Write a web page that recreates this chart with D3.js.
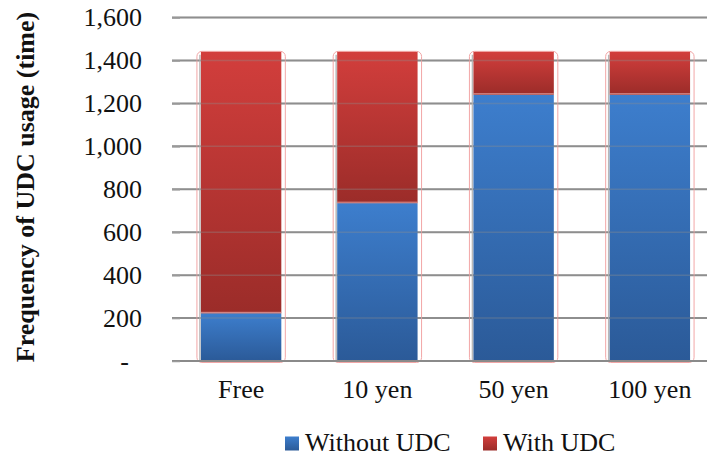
<!DOCTYPE html>
<html>
<head>
<meta charset="utf-8">
<script src="https://cdn.jsdelivr.net/npm/d3@7"></script>
<style>
  html, body { margin: 0; padding: 0; background: #fff; }
  svg { display: block; }
</style>
</head>
<body>
<svg id="chart" width="707" height="460"></svg>
<script>
// Usage frequency of UDC by price setting
const categories = ["Free", "10 yen", "50 yen", "100 yen"];
const withoutUDC = [222, 735, 1240, 1240];
const withUDC = [1218, 705, 200, 200];
const yTicks = [0, 200, 400, 600, 800, 1000, 1200, 1400, 1600];
const yTickLabels = ["-", "200", "400", "600", "800", "1,000", "1,200", "1,400", "1,600"];
const seriesNames = ["Without UDC", "With UDC"];

const FONT = "'Liberation Serif', 'DejaVu Serif', serif";

const svg = d3.select("#chart");
const plotLeft = 180, plotRight = 707;

const x = d3.scaleBand().domain(categories).range([173, 718])
  .paddingInner(0.41).paddingOuter(0.205);
const y = d3.scaleLinear().domain([0, 1600]).range([361, 17.5]);

// gradients for each series
const defs = svg.append("defs");
function grad(id, top, bottom) {
  const g = defs.append("linearGradient").attr("id", id)
    .attr("x1", 0).attr("y1", 0).attr("x2", 0).attr("y2", 1);
  g.append("stop").attr("offset", "0%").attr("stop-color", top);
  g.append("stop").attr("offset", "100%").attr("stop-color", bottom);
}
grad("gBlue", "#3d7ecd", "#2b5a98");
grad("gRed", "#d23e3c", "#9b2c29");

// gridlines
svg.append("g").selectAll("line").data(yTicks.slice(1)).join("line")
  .attr("x1", 172).attr("x2", plotRight)
  .attr("y1", d => y(d)).attr("y2", d => y(d))
  .attr("stroke", "#8e8e8e").attr("stroke-width", 2);

// stacked data
const rows = categories.map((c, i) => ({ cat: c, a: withoutUDC[i], b: withUDC[i] }));
const stack = d3.stack().keys(["a", "b"])(rows);

// halo frames around each bar
const halo = svg.append("g");
halo.selectAll("rect").data(rows).join("rect")
  .attr("x", d => x(d.cat) - 4)
  .attr("y", d => y(d.a + d.b) - 0.5)
  .attr("width", x.bandwidth() + 8)
  .attr("height", d => y(0) - y(d.a + d.b) + 2)
  .attr("rx", 5)
  .attr("fill", "none")
  .attr("stroke", "#f2a6a6").attr("stroke-width", 1);
halo.selectAll("line").data(rows).join("line")
  .attr("x1", d => x(d.cat) - 1).attr("x2", d => x(d.cat) - 1)
  .attr("y1", d => y(d.a + d.b) + 3).attr("y2", y(0))
  .attr("stroke", "#b8b8b8").attr("stroke-width", 1.5);

// bars
const fills = ["url(#gBlue)", "url(#gRed)"];
svg.append("g").selectAll("g").data(stack).join("g")
  .attr("fill", (d, i) => fills[i])
  .selectAll("rect").data(d => d).join("rect")
  .attr("x", d => x(d.data.cat))
  .attr("y", d => y(d[1]))
  .attr("width", x.bandwidth())
  .attr("height", d => y(d[0]) - y(d[1]));

// light seam between segments
svg.append("g").selectAll("line").data(rows).join("line")
  .attr("x1", d => x(d.cat)).attr("x2", d => x(d.cat) + x.bandwidth())
  .attr("y1", d => y(d.a) - 1).attr("y2", d => y(d.a) - 1)
  .attr("stroke", "#f0b4b4").attr("stroke-width", 1).attr("opacity", 0.8);

// gridlines showing faintly through the bars
svg.append("g").selectAll("line").data(yTicks.slice(1)).join("line")
  .attr("x1", 172).attr("x2", plotRight)
  .attr("y1", d => y(d)).attr("y2", d => y(d))
  .attr("stroke", "#8e8e8e").attr("stroke-width", 1.5).attr("opacity", 0.35);

// baseline
svg.append("line")
  .attr("x1", 172).attr("x2", plotRight)
  .attr("y1", y(0)).attr("y2", y(0))
  .attr("stroke", "#8a8a8a").attr("stroke-width", 2);

// y axis
const yAxis = d3.axisLeft(y).tickValues(yTicks)
  .tickFormat((d, i) => yTickLabels[i])
  .tickSizeInner(8).tickSizeOuter(0).tickPadding(30);
const gy = svg.append("g").attr("transform", `translate(${plotLeft},0)`).call(yAxis);
gy.attr("font-family", null).attr("font-size", null);
gy.select(".domain").remove();
gy.selectAll(".tick line").attr("stroke", "#9a9a9a").attr("stroke-width", 1.5);
gy.selectAll(".tick text")
  .style("font-family", FONT)
  .style("font-size", "26px").attr("fill", "#111")
  .attr("dx", (d, i) => yTickLabels[i] === "-" ? -13 : 0);

// x axis
const xAxis = d3.axisBottom(x).tickSize(0).tickPadding(19);
const gx = svg.append("g").attr("transform", `translate(0,${y(0)})`).call(xAxis);
gx.attr("font-family", null).attr("font-size", null);
gx.select(".domain").remove();
gx.selectAll(".tick text")
  .style("font-family", FONT)
  .style("font-size", "26px").attr("fill", "#111");

// y axis title
svg.append("text")
  .attr("transform", `translate(34,187) rotate(-90)`)
  .attr("text-anchor", "middle")
  .style("font-family", FONT)
  .style("font-size", "26px").style("font-weight", "bold")
  .attr("fill", "#111")
  .text("Frequency of UDC usage (time)");

// legend
const legendX = [285, 483];
const lg = svg.append("g").selectAll("g").data(seriesNames).join("g")
  .attr("transform", (d, i) => `translate(${legendX[i]},0)`);
lg.append("rect").attr("x", 0).attr("y", 436.5).attr("width", 14).attr("height", 14)
  .attr("fill", (d, i) => fills[i]);
lg.append("text").attr("x", 20).attr("y", 450.5)
  .style("font-family", FONT).style("font-size", "26px")
  .attr("fill", "#111").text(d => d);
</script>
</body>
</html>
